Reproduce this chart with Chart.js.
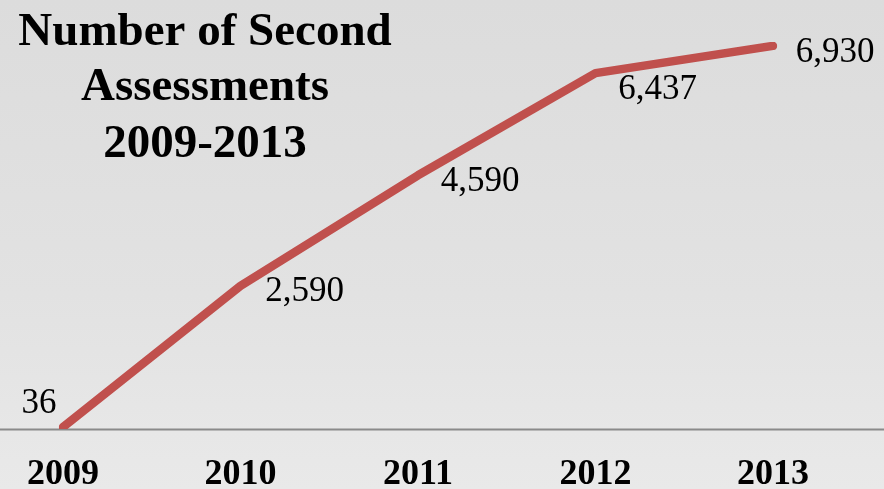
<!DOCTYPE html>
<html>
<head>
<meta charset="utf-8">
<script src="https://cdn.jsdelivr.net/npm/chart.js@4.4.1/dist/chart.umd.min.js"></script>
<style>
    html, body {
        margin: 0;
        padding: 0;
    }
    body {
        width: 884px;
        height: 489px;
        background: linear-gradient(to bottom, #dcdcdc 0%, #e2e2e2 60%, #e9e9e9 100%);
        overflow: hidden;
    }
    #chart-box {
        position: relative;
        width: 884px;
        height: 489px;
    }
</style>
</head>
<body>
<div id="chart-box">
    <canvas id="assessChart"></canvas>
</div>
<script>
    // 年別の件数
    const years = ["2009", "2010", "2011", "2012", "2013"];
    const assessments = [36, 2590, 4590, 6437, 6930];
    const titleLines = ["Number of Second", "Assessments", "2009-2013"];

    // 値ラベルの位置 (点からのずれ, 中心x / ベースライン)
    const labelOffsets = [[-24, -14], [64, 15], [62, 16], [62, 26], [62, 16]];

    const serif = "'Liberation Serif', 'Times New Roman', serif";

    const backdropPlugin = {
        id: "backdrop",
        beforeDatasetsDraw(chart) {
            const ctx = chart.ctx;
            const y = Math.round(chart.scales.y.getPixelForValue(0)) + 0.5;
            ctx.save();
            ctx.strokeStyle = "#8a8a8a";
            ctx.lineWidth = 2;
            ctx.beginPath();
            ctx.moveTo(0, y);
            ctx.lineTo(chart.width, y);
            ctx.stroke();
            ctx.restore();
        },
        afterDraw(chart) {
            const ctx = chart.ctx;
            ctx.save();
            ctx.fillStyle = "#000";
            ctx.textAlign = "center";
            ctx.textBaseline = "alphabetic";
            ctx.font = "bold 47px " + serif;
            const baselines = [45, 100, 157];
            titleLines.forEach((line, i) => {
                ctx.fillText(line, 205, baselines[i]);
            });
            ctx.restore();
        }
    };

    const valueLabelPlugin = {
        id: "valueLabels",
        afterDatasetsDraw(chart) {
            const ctx = chart.ctx;
            const meta = chart.getDatasetMeta(0);
            ctx.save();
            ctx.fillStyle = "#000";
            ctx.font = "35px " + serif;
            ctx.textAlign = "center";
            ctx.textBaseline = "alphabetic";
            meta.data.forEach((pt, i) => {
                const [dx, dy] = labelOffsets[i];
                ctx.fillText(assessments[i].toLocaleString("en-US"), pt.x + dx, pt.y + dy);
            });
            ctx.restore();
        }
    };

    new Chart(document.getElementById("assessChart"), {
        type: "line",
        data: {
            labels: years,
            datasets: [{
                data: assessments,
                borderColor: "#c0504d",
                borderWidth: 8.5,
                borderCapStyle: "round",
                borderJoinStyle: "round",
                pointRadius: 0,
                pointHoverRadius: 0,
                tension: 0,
                fill: false
            }]
        },
        options: {
            responsive: true,
            maintainAspectRatio: false,
            animation: false,
            events: [],
            layout: {
                padding: { left: 63, right: 111, top: 42, bottom: -31 }
            },
            plugins: {
                legend: { display: false },
                tooltip: { enabled: false },
                title: { display: false }
            },
            scales: {
                x: {
                    offset: false,
                    grid: { display: false, drawTicks: false },
                    border: { display: false },
                    ticks: {
                        color: "#000",
                        padding: 26,
                        maxRotation: 0,
                        autoSkip: false,
                        font: { family: serif, size: 36, weight: "bold", lineHeight: 1.08 }
                    }
                },
                y: {
                    display: false,
                    min: 0,
                    max: 7000
                }
            }
        },
        plugins: [backdropPlugin, valueLabelPlugin]
    });
</script>
</body>
</html>
